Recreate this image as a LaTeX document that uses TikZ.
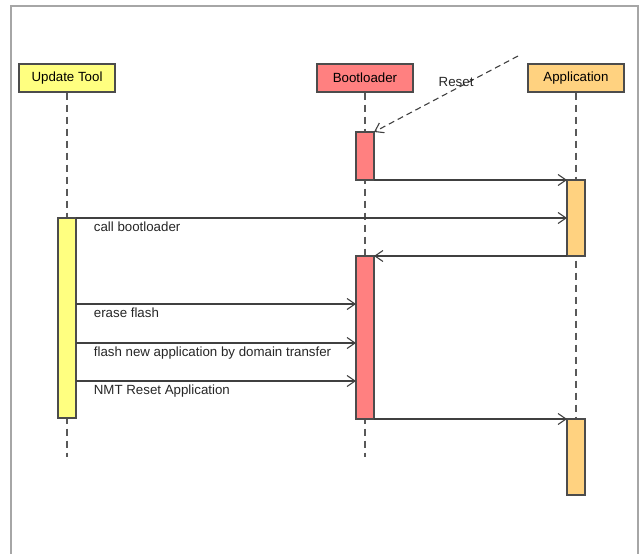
\documentclass[tikz,border=0pt]{standalone}
\usepackage{fontspec}
\setmainfont{Liberation Sans}
\usetikzlibrary{arrows.meta, positioning, calc}
\definecolor{tooly}{RGB}{255,255,128}
\definecolor{bootr}{RGB}{255,128,128}
\definecolor{appo}{RGB}{255,210,128}

\begin{document}
\begin{tikzpicture}[x=1pt,y=-1pt,->,>={Straight Barb[length=8pt,width=11pt]},
  line width=1.1pt,every node/.style={font=\fontsize{13.3}{15}\selectfont},
  head node/.style={rectangle,draw=black!70,minimum width=96pt,minimum height=28pt,inner sep=0pt},
  act node/.style={rectangle,draw=black!70,minimum width=18pt,inner sep=0pt,outer sep=0pt,anchor=north},
  life/.style={-,draw=black!65,dash pattern=on 7pt off 5pt},
  msg/.style={draw=black!75},
  lbl/.style={pos=0,anchor=base west,xshift=14pt,yshift=-13.5pt,text=black!85}]
  \useasboundingbox (0,0) rectangle (640,554);
  \draw[-,draw=black!35,line width=1.3pt] (11,554) -- (11,6) -- (638,6) -- (638,554);
  % lifeline heads
  \node[head node, fill=tooly] (1) at (67,78) {Update Tool};
  \node[head node, fill=bootr] (2) at (365,78) {Bootloader};
  \node[head node, fill=appo] (3) at (576,78) {Application};
  \draw[life] (1.south) -- (1.south |- 0,457);
  \draw[life] (2.south) -- (2.south |- 0,457);
  \draw[life] (3.south) -- (3.south |- 0,419);
  % activations
  \node[act node, fill=tooly, minimum height=200pt] (4) at (67,218) {};
  \node[act node, fill=bootr, minimum height=48pt] (5) at (365,132) {};
  \node[act node, fill=bootr, minimum height=163pt] (6) at (365,256) {};
  \node[act node, fill=appo, minimum height=76pt] (7) at (576,180) {};
  \node[act node, fill=appo, minimum height=76pt] (8) at (576,419) {};
  % messages
  \coordinate (r) at (518,56);
  \draw[msg, dash pattern=on 6pt off 4pt] (r) -- (5.north east)
    node[pos=0.43, yshift=7pt, text=black!85] {Reset};
  \draw[msg] (5.south east) -- (7.north west);
  \draw[msg] (4.north east) -- (4.north east -| 7.west) node[lbl] {call bootloader};
  \draw[msg] (7.south west) -- (6.north east);
  \draw[msg] (4.east |- 0,304) -- (6.west |- 0,304) node[lbl] {erase flash};
  \draw[msg] (4.east |- 0,343) -- (6.west |- 0,343) node[lbl] {flash new application by domain transfer};
  \draw[msg] (4.east |- 0,381) -- (6.west |- 0,381) node[lbl] {NMT Reset Application};
  \draw[msg] (6.south east) -- (8.north west);
\end{tikzpicture}
\end{document}
